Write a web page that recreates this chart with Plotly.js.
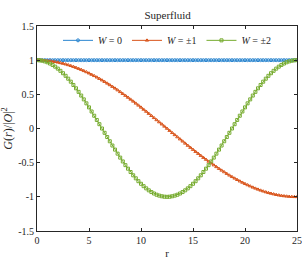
<!DOCTYPE html>
<html><head><meta charset="utf-8">
<script src="https://cdn.plot.ly/plotly-3.0.1.min.js"></script>
<style>html,body{margin:0;padding:0;background:#fff;}#c{width:302px;height:267px;}</style>
</head><body><div id="c"></div>
<script>
const r = [0,0.25,0.5,0.75,1,1.25,1.5,1.75,2,2.25,2.5,2.75,3,3.25,3.5,3.75,4,4.25,4.5,4.75,5,5.25,5.5,5.75,6,6.25,6.5,6.75,7,7.25,7.5,7.75,8,8.25,8.5,8.75,9,9.25,9.5,9.75,10,10.25,10.5,10.75,11,11.25,11.5,11.75,12,12.25,12.5,12.75,13,13.25,13.5,13.75,14,14.25,14.5,14.75,15,15.25,15.5,15.75,16,16.25,16.5,16.75,17,17.25,17.5,17.75,18,18.25,18.5,18.75,19,19.25,19.5,19.75,20,20.25,20.5,20.75,21,21.25,21.5,21.75,22,22.25,22.5,22.75,23,23.25,23.5,23.75,24,24.25,24.5,24.75,25];
const gW0 = [1,1,1,1,1,1,1,1,1,1,1,1,1,1,1,1,1,1,1,1,1,1,1,1,1,1,1,1,1,1,1,1,1,1,1,1,1,1,1,1,1,1,1,1,1,1,1,1,1,1,1,1,1,1,1,1,1,1,1,1,1,1,1,1,1,1,1,1,1,1,1,1,1,1,1,1,1,1,1,1,1,1,1,1,1,1,1,1,1,1,1,1,1,1,1,1,1,1,1,1,1];
const gW1 = [1,1,0.998,0.996,0.992,0.988,0.982,0.976,0.969,0.960,0.951,0.941,0.930,0.918,0.905,0.891,0.876,0.861,0.844,0.827,0.809,0.790,0.771,0.750,0.729,0.707,0.685,0.661,0.637,0.613,0.588,0.562,0.536,0.509,0.482,0.454,0.426,0.397,0.368,0.339,0.309,0.279,0.249,0.218,0.187,0.156,0.125,0.094,0.063,0.031,0,
-0.031,-0.063,-0.094,-0.125,-0.156,-0.187,-0.218,-0.249,-0.279,-0.309,-0.339,-0.368,-0.397,-0.426,-0.454,-0.482,-0.509,-0.536,-0.562,-0.588,-0.613,-0.637,-0.661,-0.685,-0.707,-0.729,-0.750,-0.771,-0.790,-0.809,-0.827,-0.844,-0.861,-0.876,-0.891,-0.905,-0.918,-0.930,-0.941,-0.951,-0.960,-0.969,-0.976,-0.982,-0.988,-0.992,-0.996,-0.998,-1,-1];
const gW2 = [1,0.998,0.992,0.982,0.969,0.951,0.930,0.905,0.876,0.844,0.809,0.771,0.729,0.685,0.637,0.588,0.536,0.482,0.426,0.368,0.309,0.249,0.187,0.125,0.063,0,
-0.063,-0.125,-0.187,-0.249,-0.309,-0.368,-0.426,-0.482,-0.536,-0.588,-0.637,-0.685,-0.729,-0.771,-0.809,-0.844,-0.876,-0.905,-0.930,-0.951,-0.969,-0.982,-0.992,-0.998,-1,
-0.998,-0.992,-0.982,-0.969,-0.951,-0.930,-0.905,-0.876,-0.844,-0.809,-0.771,-0.729,-0.685,-0.637,-0.588,-0.536,-0.482,-0.426,-0.368,-0.309,-0.249,-0.187,-0.125,-0.063,0,
0.063,0.125,0.187,0.249,0.309,0.368,0.426,0.482,0.536,0.588,0.637,0.685,0.729,0.771,0.809,0.844,0.876,0.905,0.930,0.951,0.969,0.982,0.992,0.998,1];
const names = ['<i>W</i> = 0','<i>W</i> = ±1','<i>W</i> = ±2'];
const yTickVals = [-1.5,-1,-0.5,0,0.5,1,1.5];
const yTickText = ['-1.5','-1','-0.5','0','0.5','1','1.5'];
const xTickVals = [0,5,10,15,20,25];

const FONT = 'Liberation Serif, DejaVu Serif, serif';
const colors = ['#2B86D0','#D95319','#77AC30'];
const symbols = ['circle-open','triangle-up-open','square-open'];
const series = [gW0,gW1,gW2];
const traces = series.map((y,i)=>({
  x: r, y: y, name: names[i], type:'scatter', mode:'lines+markers',
  line:{color:colors[i], width:1},
  marker:{symbol:symbols[i], size:3, color:colors[i], line:{width:1,color:colors[i]}}
}));
const axisCommon = {showgrid:false, zeroline:false, showline:true, linecolor:'#262626', linewidth:1,
  mirror:'ticks', ticks:'inside', ticklen:3, tickcolor:'#262626',
  tickfont:{family:FONT, size:10, color:'#262626'}};
const layout = {
  width:302, height:267, margin:{l:37,r:5,t:26,b:36},
  paper_bgcolor:'#fff', plot_bgcolor:'#fff',
  font:{family:FONT, color:'#262626'},
  title:{text:'Superfluid', font:{family:FONT, size:11, color:'#262626'}, x:0.555, xanchor:'center', y:0.93, yanchor:'bottom'},
  showlegend:true,
  legend:{orientation:'h', x:0.5, xanchor:'center', y:0.93, yanchor:'middle', bgcolor:'rgba(255,255,255,0)',
    font:{family:FONT, size:10, color:'#262626'}, itemwidth:30, tracegroupgap:0},
  xaxis:Object.assign({}, axisCommon, {range:[0,25], tickvals:xTickVals,
    title:{text:'r', font:{family:FONT, size:11}, standoff:4}}),
  yaxis:Object.assign({}, axisCommon, {range:[-1.5,1.5], tickvals:yTickVals, ticktext:yTickText,
    title:{text:'<i>G</i>(<i>r</i>)/|<i>O</i>|<sup>2</sup>', font:{family:FONT, size:12}, standoff:4}})
};
Plotly.newPlot('c', traces, layout, {staticPlot:true, displayModeBar:false});
</script></body></html>
